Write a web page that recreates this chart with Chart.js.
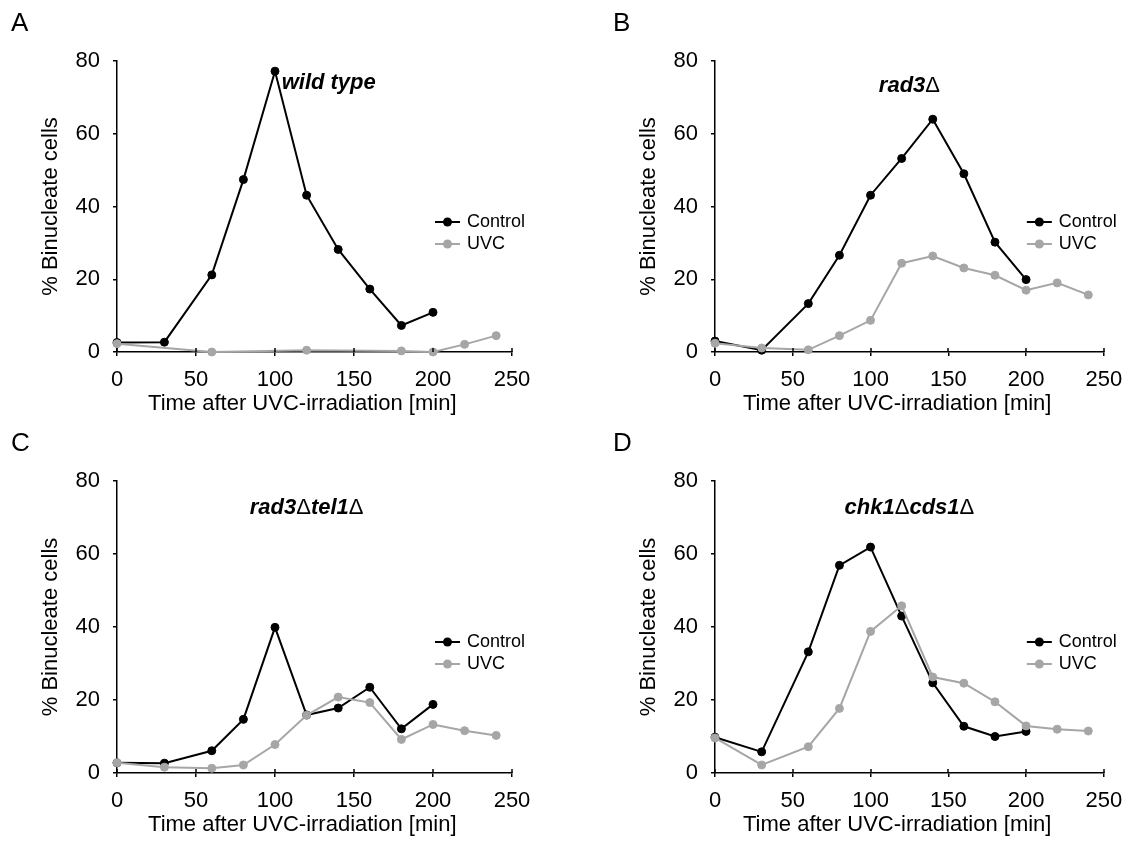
<!DOCTYPE html>
<html>
<head>
<meta charset="utf-8">
<script src="https://cdn.jsdelivr.net/npm/chart.js@4"></script>
<style>
html,body{margin:0;padding:0;background:#fff;}
#wrap{position:relative;width:1133px;height:841px;overflow:hidden;background:#fff;}
canvas{position:absolute;}
.lbl{position:absolute;font:26px 'Liberation Sans',Arial,sans-serif;color:#000;line-height:26px;}
</style>
</head>
<body>
<div id="wrap">
  <canvas id="cA" width="598" height="420" style="left:0px;top:0px"></canvas>
  <canvas id="cB" width="535" height="420" style="left:598px;top:0px"></canvas>
  <canvas id="cC" width="598" height="421" style="left:0px;top:420px"></canvas>
  <canvas id="cD" width="535" height="421" style="left:598px;top:420px"></canvas>
  <div class="lbl" style="left:11px;top:9px">A</div>
  <div class="lbl" style="left:613px;top:9px">B</div>
  <div class="lbl" style="left:11px;top:429px">C</div>
  <div class="lbl" style="left:613px;top:429px">D</div>
</div>
<script>
// ---- data ----
const xTicks = [0, 50, 100, 150, 200, 250];
const yTicks = [0, 20, 40, 60, 80];
const seriesNames = ['Control', 'UVC'];
const xTitle = 'Time after UVC-irradiation [min]';
const yTitle = '% Binucleate cells';

const timeControl = [0, 30, 60, 80, 100, 120, 140, 160, 180, 200];
const timeUVC = [0, 30, 60, 80, 100, 120, 140, 160, 180, 200, 220, 240];
const timeUVCwt = [0, 60, 120, 180, 200, 220, 240];

const wtControl = [2.6, 2.7, 21.2, 47.4, 77.2, 43.1, 28.2, 17.3, 7.3, 10.9];
const wtUVC = [2.3, 0, 0.5, 0.3, 0, 2.1, 4.5];
const rad3Control = [3.0, 0.5, 13.3, 26.6, 43.1, 53.2, 64.0, 49.0, 30.2, 19.9];
const rad3UVC = [2.4, 1.1, 0.6, 4.5, 8.7, 24.4, 26.4, 23.1, 21.1, 17.0, 19.0, 15.7];
const rad3tel1Control = [2.8, 2.7, 6.1, 14.7, 39.9, 15.9, 17.8, 23.5, 12.1, 18.8];
const rad3tel1UVC = [2.8, 1.6, 1.3, 2.2, 7.8, 15.8, 20.8, 19.3, 9.2, 13.3, 11.6, 10.3];
const chk1cds1Control = [9.8, 5.8, 33.2, 56.9, 61.9, 43.0, 24.7, 12.8, 10.0, 11.4];
const chk1cds1UVC = [9.6, 2.2, 7.2, 17.7, 38.8, 45.8, 26.3, 24.6, 19.5, 12.9, 12.0, 11.5];

// panel titles: [text, italicBold]
const titleA = [['wild type', true]];
const titleB = [['rad3', true], ['\u0394', false]];
const titleC = [['rad3', true], ['\u0394', false], ['tel1', true], ['\u0394', false]];
const titleD = [['chk1', true], ['\u0394', false], ['cds1', true], ['\u0394', false]];

// ---- styling ----
const FONT = "'Liberation Sans', Arial, sans-serif";
const BLACK = '#000000';
const GRAY = '#a6a6a6';

function toXY(xs, ys) { return xs.map((x, i) => ({ x: x, y: ys[i] })); }

const panelDecor = {
  id: 'panelDecor',
  afterDraw(chart, args, opts) {
    const ctx = chart.ctx, ca = chart.chartArea, xs = chart.scales.x;
    ctx.save();
    // x tick marks also cross above the axis
    ctx.strokeStyle = BLACK; ctx.lineWidth = 1.5;
    xs.ticks.forEach(t => {
      const px = Math.round(xs.getPixelForValue(t.value));
      ctx.beginPath(); ctx.moveTo(px, ca.bottom - 4); ctx.lineTo(px, ca.bottom); ctx.stroke();
    });
    // panel title
    const segs = opts.title || [];
    const fontOf = b => (b ? 'italic bold ' : '') + '22px ' + FONT;
    let total = 0;
    segs.forEach(s => { ctx.font = fontOf(s[1]); total += ctx.measureText(s[0]).width; });
    let tx = ca.left + (ca.right - ca.left) * opts.titleX - total / 2;
    const ty = ca.top + opts.titleDy;
    ctx.fillStyle = BLACK; ctx.textBaseline = 'middle'; ctx.textAlign = 'left';
    segs.forEach(s => { ctx.font = fontOf(s[1]); ctx.fillText(s[0], tx, ty); tx += ctx.measureText(s[0]).width; });
    // legend
    chart.data.datasets.forEach((ds, i) => {
      const y = ca.top + 161 + i * 22;
      ctx.strokeStyle = ds.borderColor; ctx.lineWidth = 2;
      ctx.beginPath(); ctx.moveTo(ca.right - 77, y); ctx.lineTo(ca.right - 52, y); ctx.stroke();
      ctx.fillStyle = ds.backgroundColor;
      ctx.beginPath(); ctx.arc(ca.right - 64.5, y, 4.5, 0, Math.PI * 2); ctx.fill();
      ctx.fillStyle = BLACK; ctx.font = '18px ' + FONT; ctx.textBaseline = 'middle';
      ctx.fillText(ds.label, ca.right - 45, y);
    });
    ctx.restore();
  }
};

function axisCommon() {
  return {
    grid: { display: true, drawOnChartArea: false, drawTicks: true, tickLength: 4, color: BLACK, lineWidth: 1.5 },
    border: { display: true, color: BLACK, width: 1.5 }
  };
}

function makeChart(id, cfg) {
  const ax = axisCommon(), ay = axisCommon();
  return new Chart(document.getElementById(id), {
    type: 'line',
    data: {
      datasets: [
        { label: seriesNames[0], data: toXY(cfg.ctrlT, cfg.ctrl), borderColor: BLACK, backgroundColor: BLACK,
          pointBackgroundColor: BLACK, pointBorderColor: BLACK, pointRadius: 4, pointBorderWidth: 1,
          borderWidth: 2, tension: 0, clip: false, order: 1 },
        { label: seriesNames[1], data: toXY(cfg.uvcT, cfg.uvc), borderColor: GRAY, backgroundColor: GRAY,
          pointBackgroundColor: GRAY, pointBorderColor: GRAY, pointRadius: 4, pointBorderWidth: 1,
          borderWidth: 2, tension: 0, clip: false, order: 0 }
      ]
    },
    options: {
      responsive: false, animation: false, devicePixelRatio: 1,
      layout: { padding: { left: 17, right: cfg.padRight, top: 61, bottom: 0 } },
      plugins: {
        legend: { display: false }, tooltip: { enabled: false },
        panelDecor: { title: cfg.title, titleX: cfg.titleX, titleDy: cfg.titleDy }
      },
      scales: {
        x: {
          type: 'linear', min: 0, max: 250,
          afterBuildTicks: s => { s.ticks = xTicks.map(v => ({ value: v })); },
          afterFit: s => { s.height = 68; },
          ticks: { color: BLACK, font: { family: FONT, size: 22 }, padding: 10.8, maxRotation: 0, autoSkip: false, callback: v => String(v) },
          grid: ax.grid, border: ax.border,
          title: { display: true, text: xTitle + '    ', color: BLACK, font: { family: FONT, size: 22 }, padding: { top: 0, bottom: 2.8 } }
        },
        y: {
          min: 0, max: 80,
          afterBuildTicks: s => { s.ticks = yTicks.map(v => ({ value: v })); },
          afterFit: s => { s.width = 100; },
          ticks: { color: BLACK, font: { family: FONT, size: 22 }, padding: 13, callback: v => String(v) },
          grid: ay.grid, border: ay.border,
          title: { display: true, text: yTitle, color: BLACK, font: { family: FONT, size: 22 }, padding: { top: 20.8, bottom: 0 } }
        }
      }
    },
    plugins: [panelDecor]
  });
}

makeChart('cA', { ctrlT: timeControl, ctrl: wtControl, uvcT: timeUVCwt, uvc: wtUVC, padRight: 86, title: titleA, titleX: 0.536, titleDy: 22 });
makeChart('cB', { ctrlT: timeControl, ctrl: rad3Control, uvcT: timeUVC, uvc: rad3UVC, padRight: 22, title: titleB, titleX: 0.5, titleDy: 25 });
makeChart('cC', { ctrlT: timeControl, ctrl: rad3tel1Control, uvcT: timeUVC, uvc: rad3tel1UVC, padRight: 86, title: titleC, titleX: 0.48, titleDy: 27 });
makeChart('cD', { ctrlT: timeControl, ctrl: chk1cds1Control, uvcT: timeUVC, uvc: chk1cds1UVC, padRight: 22, title: titleD, titleX: 0.5, titleDy: 27 });
</script>
</body>
</html>
